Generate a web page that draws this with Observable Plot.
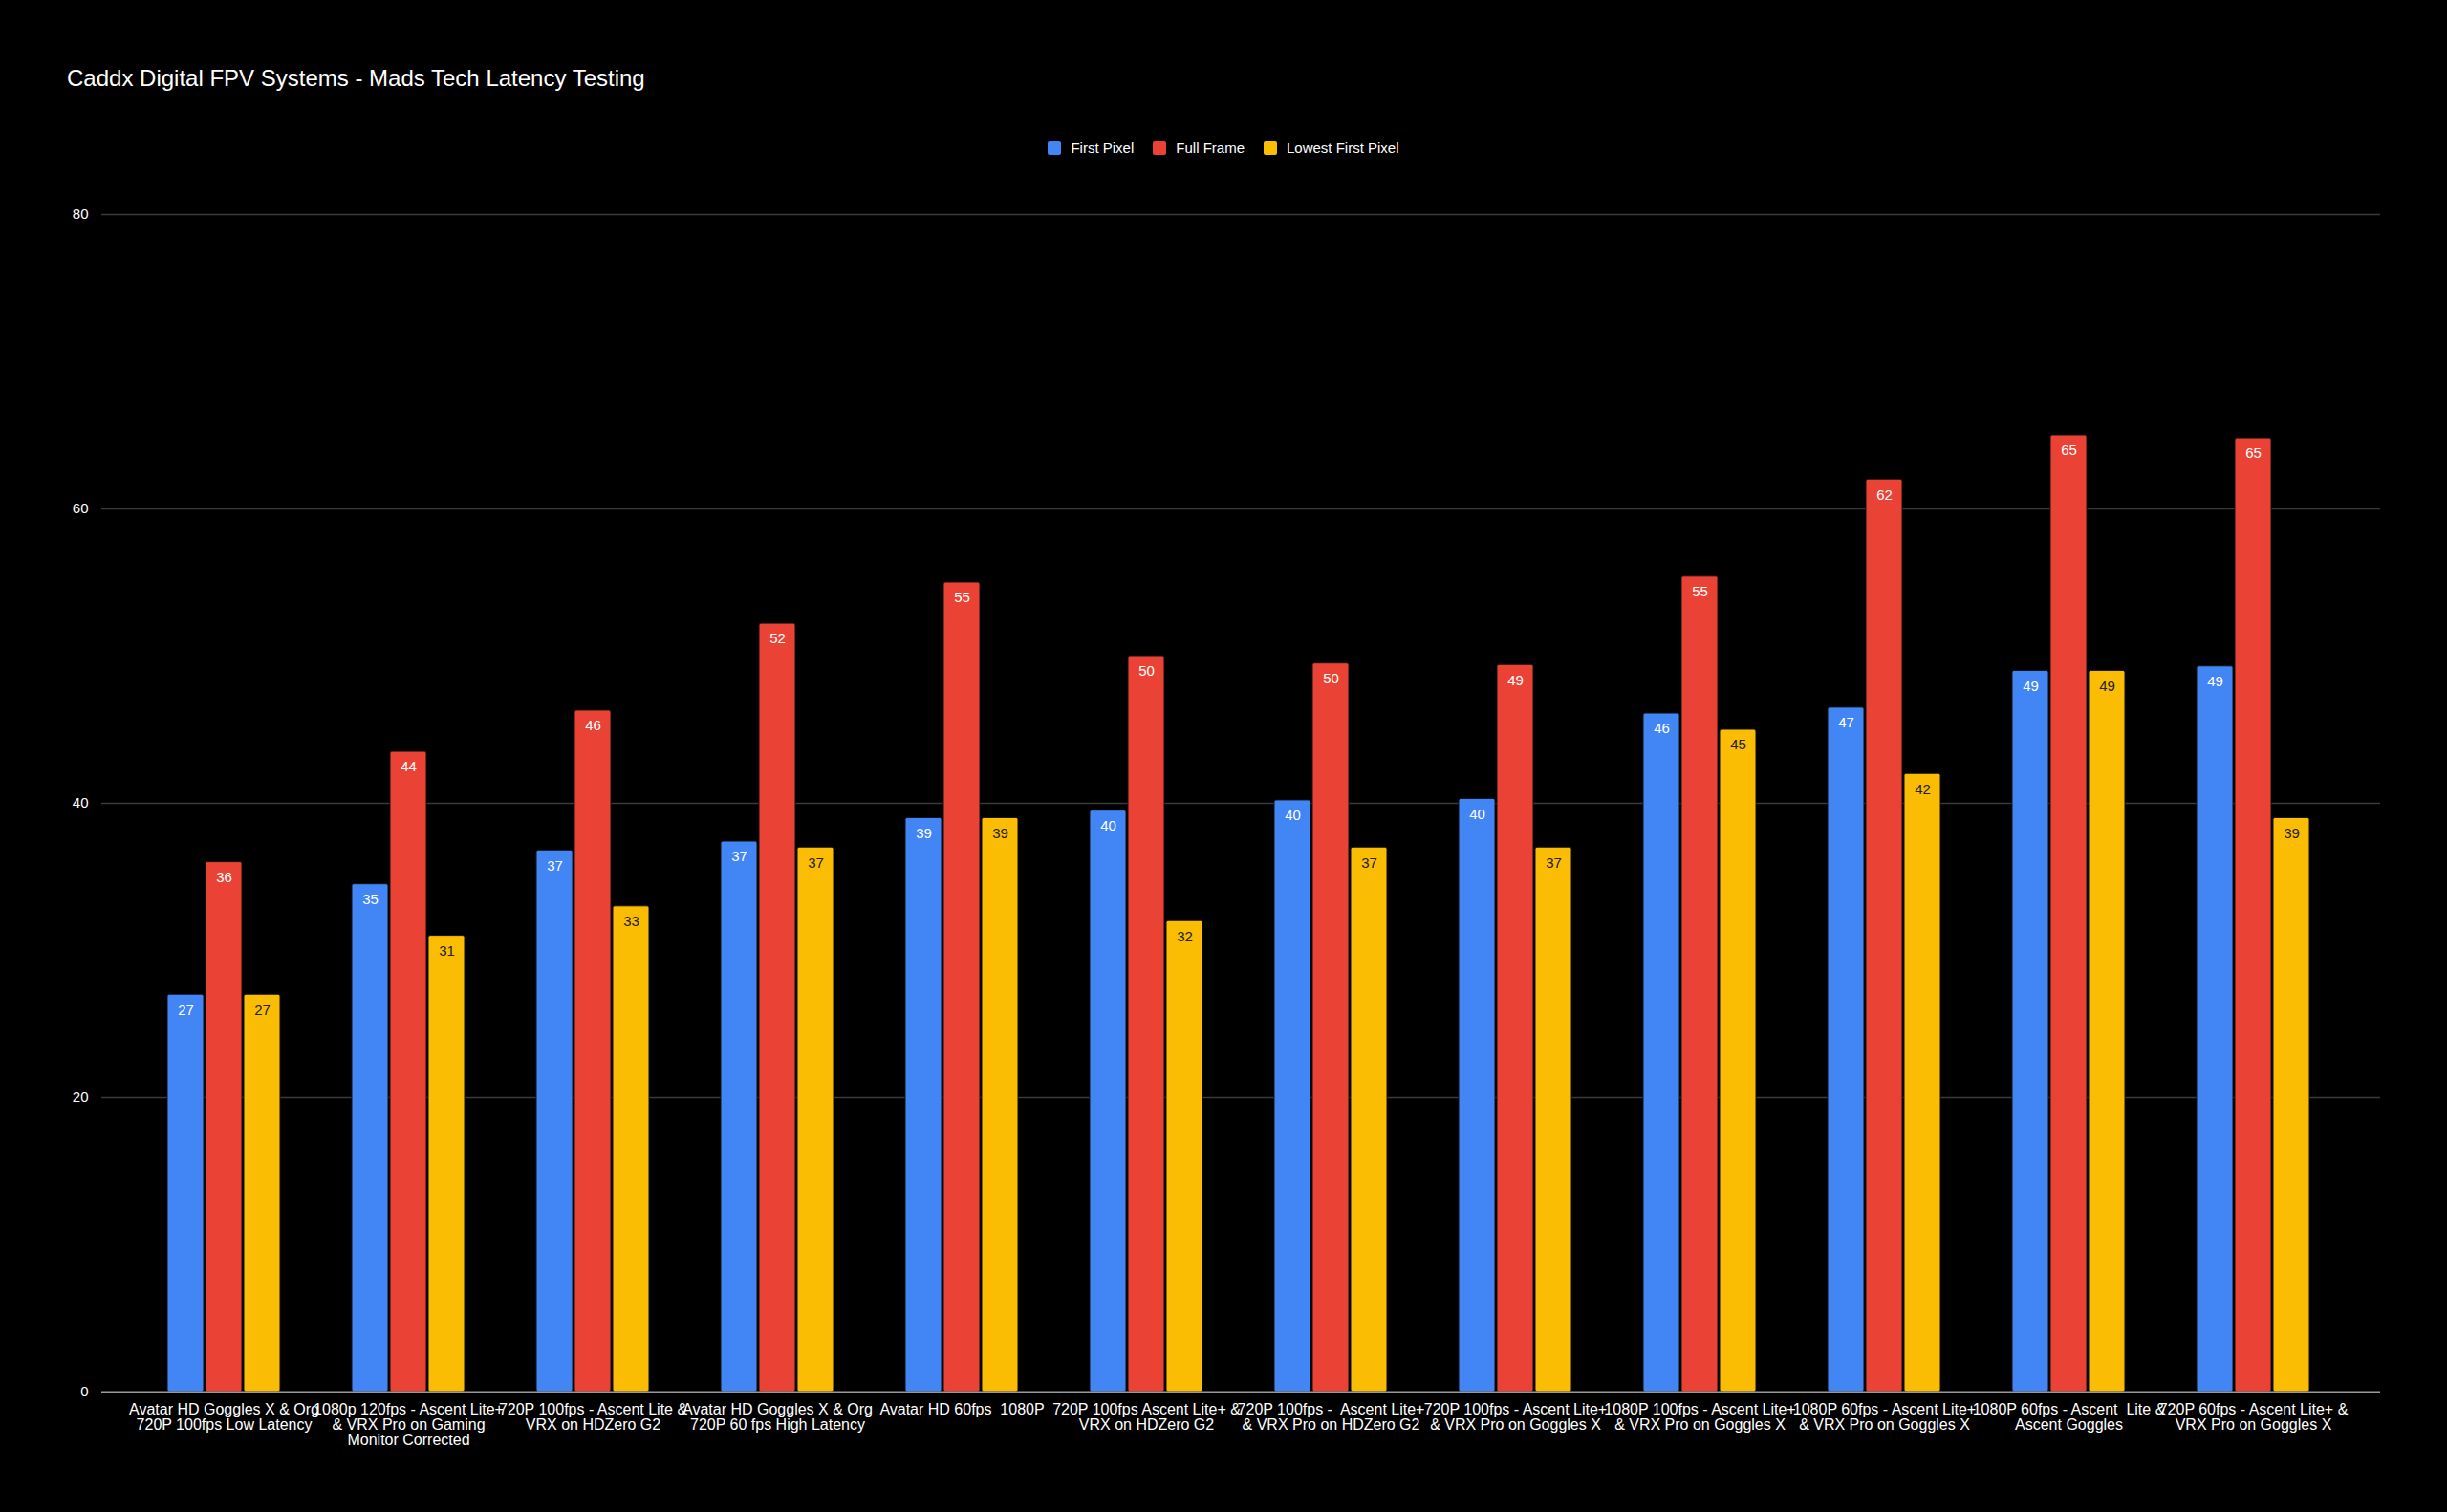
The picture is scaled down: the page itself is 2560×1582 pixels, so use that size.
<!DOCTYPE html>
<html><head><meta charset="utf-8">
<script src="https://cdn.jsdelivr.net/npm/d3@7"></script>
<script src="https://cdn.jsdelivr.net/npm/@observablehq/plot@0.6"></script>
<style>
body{margin:0;background:#000;width:2560px;height:1582px;overflow:hidden;font-family:Arial,"Liberation Sans",sans-serif;position:relative}
#title{position:absolute;left:70px;top:68px;color:#fff;font-size:24px;z-index:5}
#legend{position:absolute;top:146px;left:0;width:2560px;text-align:center;color:#fff;font-size:15px;z-index:5}
#legend span.i{display:inline-block;margin:0 10px}
#legend span.s{display:inline-block;width:14px;height:14px;border-radius:2px;vertical-align:-2px;margin-right:10px}
.layer{position:absolute;left:0;top:0}
</style></head><body>
<div id="title">Caddx Digital FPV Systems - Mads Tech Latency Testing</div>
<div id="legend"></div>
<div id="bg" class="layer"></div>
<div id="chart" class="layer"></div>
<script>
const categories = [
"Avatar HD Goggles X & Org\n720P 100fps Low Latency",
"1080p 120fps - Ascent Lite+\n& VRX Pro on Gaming\nMonitor Corrected",
"720P 100fps - Ascent Lite &\nVRX on HDZero G2",
"Avatar HD Goggles X & Org\n720P 60 fps High Latency",
"Avatar HD 60fps  1080P",
"720P 100fps Ascent Lite+ &\nVRX on HDZero G2",
"720P 100fps -  Ascent Lite+\n& VRX Pro on HDZero G2",
"720P 100fps - Ascent Lite+\n& VRX Pro on Goggles X",
"1080P 100fps - Ascent Lite+\n& VRX Pro on Goggles X",
"1080P 60fps - Ascent Lite+\n& VRX Pro on Goggles X",
"1080P 60fps - Ascent  Lite &\nAscent Goggles",
"720P 60fps - Ascent Lite+ &\nVRX Pro on Goggles X"];
const series = ["First Pixel","Full Frame","Lowest First Pixel"];
const colors = ["#4285f4","#ea4335","#fbbc04"];
const firstPixel = [27,34.5,36.8,37.4,39,39.5,40.2,40.3,46.1,46.5,49,49.3];
const fullFrame = [36,43.5,46.3,52.2,55,50,49.5,49.4,55.4,62,65,64.8];
const lowestFirstPixel = [27,31,33,37,39,32,37,37,45,42,49,39];
const yTicks = [0,20,40,60,80];

const data = [];
categories.forEach((c,i)=>{
  data.push({cat:c,s:series[0],v:firstPixel[i]});
  data.push({cat:c,s:series[1],v:fullFrame[i]});
  data.push({cat:c,s:series[2],v:lowestFirstPixel[i]});
});
document.getElementById("legend").innerHTML = series.map((s,i)=>`<span class="i"><span class="s" style="background:${colors[i]}"></span>${s}</span>`).join("");

const font = "Arial, 'Liberation Sans', sans-serif";
const bg = Plot.plot({
  width:2560, height:1582,
  marginTop:224, marginBottom:126, marginLeft:106, marginRight:70,
  style:{background:"#000",color:"#fff",fontFamily:font},
  y:{domain:[0,80], ticks:yTicks, label:null},
  marks:[
    Plot.ruleY(yTicks.filter(d=>d>0),{stroke:"#3a3a3a",strokeWidth:1.5}),
    Plot.axisY({ticks:yTicks,tickSize:0,tickPadding:14,fontSize:15,label:null})
  ]
});
document.getElementById("bg").appendChild(bg);

const chart = Plot.plot({
  width:2560, height:1582,
  marginTop:224, marginBottom:126, marginLeft:171, marginRight:140,
  style:{background:"transparent",color:"#fff",fontFamily:font},
  fx:{domain:categories, paddingInner:0.37, paddingOuter:0, label:null},
  x:{domain:series, padding:0.04, axis:null},
  y:{domain:[0,80], axis:null},
  color:{domain:series, range:colors},
  marks:[
    Plot.axisFx({anchor:"bottom",tickSize:0,tickPadding:12,fontSize:16,label:null,lineWidth:20}),
    Plot.barY(data,{fx:"cat",x:"s",y:"v",fill:"s",stroke:"#111",strokeWidth:1,rx:2}),
    Plot.text(data,{fx:"cat",x:"s",y:"v",text:d=>Math.round(d.v),dy:16,fontSize:15,fontWeight:500,
      fill:d=>d.s==="Lowest First Pixel"?"#222":"#fff"})
  ]
});
document.getElementById("chart").appendChild(chart);

const base = Plot.plot({
  width:2560, height:1582,
  marginTop:224, marginBottom:126, marginLeft:106, marginRight:70,
  style:{background:"transparent"},
  y:{domain:[0,80], axis:null},
  marks:[Plot.ruleY([0],{stroke:"#999",strokeWidth:2})]
});
base.classList.add("layer");
base.style.position="absolute";base.style.left="0";base.style.top="0";
document.body.appendChild(base);
</script></body></html>
